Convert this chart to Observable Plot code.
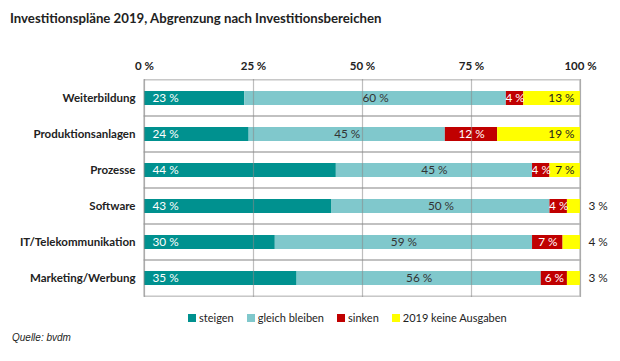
<!DOCTYPE html>
<html><head><meta charset="utf-8">
<script src="https://cdn.jsdelivr.net/npm/d3@7"></script>
<script src="https://cdn.jsdelivr.net/npm/@observablehq/plot@0.6"></script>
<style>
body{margin:0;background:#fff;width:620px;height:361px;overflow:hidden;font-family:Lato,sans-serif;color:#222}
#title{position:absolute;left:10px;top:10px;font-weight:bold;font-size:13.2px;line-height:16px}
#chart{position:absolute;left:0;top:30px}
#legend{position:absolute;left:188px;top:310px;display:flex;gap:13px;font-size:11px;line-height:16px}
.item{display:flex;align-items:center}
.sw{width:8px;height:8px;margin-right:3px}
#source{position:absolute;left:12px;top:331px;font-family:"Liberation Sans",Arial,sans-serif;font-style:italic;font-size:10px;line-height:14px}
</style></head><body>
<div id="title">Investitionspläne 2019, Abgrenzung nach Investitionsbereichen</div>
<div id="chart"></div>
<div id="legend"></div>
<div id="source">Quelle: bvdm</div>
<script>
const categories = ["Weiterbildung","Produktionsanlagen","Prozesse","Software","IT/Telekommunikation","Marketing/Werbung"];
const seriesNames = ["steigen","gleich bleiben","sinken","2019 keine Ausgaben"];
const steigen = [23,24,44,43,30,35];
const gleich = [60,45,45,50,59,56];
const sinken = [4,12,4,4,7,6];
const keine = [13,19,7,3,4,3];
const xTicks = [0,25,50,75,100];
const colors = ["#00918f","#80c8cc","#c00000","#ffff00"];

const seriesValues = [steigen, gleich, sinken, keine];
const data = categories.flatMap((c, i) => seriesValues.map((arr, j) => ({cat: c, series: seriesNames[j], value: arr[i]})));
const fmt = v => v + " %";

const W = 620, H = 270, mt = 49, mb = 3, ml = 144, mr = 40;
const pad = 0.615;
const step = (H - mt - mb) / categories.length;
const bw = step * (1 - pad);
const cellInset = -(step - bw) / 2;

const stackOpts = {x: "value", y: "cat", z: "series", order: null};

const chart = Plot.plot({
  width: W, height: H,
  marginTop: mt, marginBottom: mb, marginLeft: ml, marginRight: mr,
  style: {fontFamily: "Lato, sans-serif", fontSize: "11.5px", color: "#222", background: "#fff"},
  x: {domain: [0, 100], axis: null},
  y: {domain: categories, paddingInner: pad, paddingOuter: pad / 2, axis: null},
  color: {domain: seriesNames, range: colors},
  marks: [
    Plot.barX(categories, {x1: 0, x2: 100, y: d => d, fill: "none", stroke: "#b8b8b8", strokeWidth: 1.2, insetTop: cellInset, insetBottom: cellInset}),
    Plot.barX(data, Plot.stackX({...stackOpts, fill: "series"})),
    Plot.ruleX(xTicks, {stroke: "#888", strokeOpacity: 0.55, strokeWidth: 1.2}),
    Plot.axisX(xTicks, {anchor: "top", tickSize: 0, tickPadding: 10, tickFormat: fmt, fontWeight: "bold", fontSize: 11.5, label: null}),
    Plot.axisY({tickSize: 0, tickPadding: 9, fontWeight: "bold", fontSize: 11.5, label: null}),
    Plot.text(data, Plot.stackX1({...stackOpts, text: d => d.series === "steigen" ? fmt(d.value) : "", textAnchor: "start", dx: 8, fill: "white", fontSize: 11.8})),
    Plot.text(data, Plot.stackX({...stackOpts, text: d => d.series === "gleich bleiben" ? fmt(d.value) : "", fill: "#333", fontSize: 11.8})),
    Plot.text(data, Plot.stackX({...stackOpts, text: d => d.series === "sinken" ? fmt(d.value) : "", fill: "white", fontSize: 11.8})),
    Plot.text(data, Plot.stackX2({...stackOpts, text: d => d.series === "2019 keine Ausgaben" && d.value >= 5 ? fmt(d.value) : "", textAnchor: "end", dx: -6, fill: "#222", fontSize: 11.8})),
    Plot.text(data, Plot.stackX2({...stackOpts, text: d => d.series === "2019 keine Ausgaben" && d.value < 5 ? fmt(d.value) : "", textAnchor: "start", dx: 8, fill: "#222", fontSize: 11.8}))
  ]
});
document.getElementById("chart").appendChild(chart);

const legend = document.getElementById("legend");
seriesNames.forEach((s, i) => {
  const item = document.createElement("div");
  item.className = "item";
  const sw = document.createElement("span");
  sw.className = "sw";
  sw.style.background = colors[i];
  const t = document.createElement("span");
  t.textContent = s;
  item.appendChild(sw); item.appendChild(t);
  legend.appendChild(item);
});
</script>
</body></html>
